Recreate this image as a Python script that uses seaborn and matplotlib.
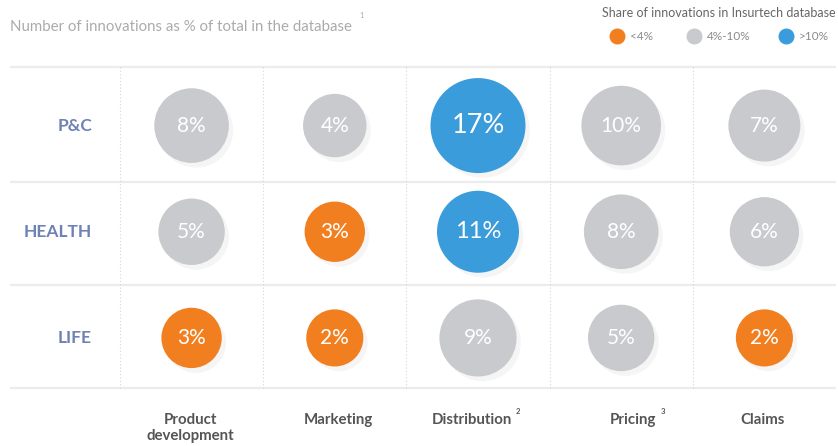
import matplotlib
matplotlib.use("Agg")
import matplotlib.pyplot as plt
from matplotlib.lines import Line2D
import seaborn as sns
import pandas as pd
import numpy as np

# Data
functions = ["Product\ndevelopment", "Marketing", "Distribution", "Pricing", "Claims"]
function_notes = ["", "", "2", "3", ""]
lines_of_business = ["P&C", "HEALTH", "LIFE"]
share_pc = [8, 4, 17, 10, 7]
share_health = [5, 3, 11, 8, 6]
share_life = [3, 2, 9, 5, 2]
band_labels = ["<4%", "4%-10%", ">10%"]

sns.set_theme(style="white")
plt.rcParams["font.family"] = ["Lato", "DejaVu Sans"]

rows = []
for lob, vals in zip(lines_of_business, [share_pc, share_health, share_life]):
    for fn, v in zip(functions, vals):
        band = "<4%" if v < 4 else (">10%" if v > 10 else "4%-10%")
        rows.append({"lob": lob, "function": fn, "share": v, "band": band})
df = pd.DataFrame(rows)
df["x"] = df["function"].map({f: i for i, f in enumerate(functions)})
df["y"] = df["lob"].map({l: i for i, l in enumerate(lines_of_business)})

palette = {"<4%": "#F27F1F", "4%-10%": "#C9CACD", ">10%": "#3B9CDB"}

W, H = 838, 446
fig = plt.figure(figsize=(W / 100, H / 100), dpi=100)
fig.patch.set_facecolor("white")
# axes spans pixel x 10..836, y 64..391
ax = fig.add_axes([10 / W, (H - 391) / H, 826 / W, 327 / H])
ax.set_xlim(-1.268, 4.5)
ax.set_ylim(2.5, -0.58)
ax.axis("off")

# grid: horizontal row separators and dotted column dividers
for yy in [-0.55, 0.53, 1.5, 2.47]:
    ax.axhline(yy, color="#ECECEC", lw=1.6, zorder=0)
for xx in [-0.5, 0.5, 1.5, 2.5, 3.5]:
    ax.plot([xx, xx], [-0.55, 2.47], color="#D6D6D6", lw=0.8,
            ls=(0, (1, 2)), zorder=0)

size_range = (1690, 4680)
# soft drop shadow beneath the bubbles
shadow = df.copy()
shadow["x"] = shadow["x"] + 0.03
shadow["y"] = shadow["y"] + 0.045
sns.scatterplot(data=shadow, x="x", y="y", size="share", sizes=size_range,
                size_norm=(2, 17), color="#000000", alpha=0.04,
                linewidth=0, legend=False, ax=ax, zorder=1)

sns.scatterplot(data=df, x="x", y="y", hue="band", palette=palette,
                size="share", sizes=size_range, size_norm=(2, 17),
                linewidth=0, legend=False, ax=ax, zorder=2)
ax.set_xlabel("")
ax.set_ylabel("")
ax.axis("off")

for _, r in df.iterrows():
    fs = 19.5 if r["share"] >= 15 else (17 if r["share"] > 10 else 15)
    ax.text(r["x"], r["y"], f"{r['share']}%", ha="center", va="center",
            color="white", fontsize=fs, zorder=3)

# row labels
for i, lob in enumerate(lines_of_business):
    ax.text(-0.695, i, lob, ha="right", va="center", fontsize=12.5,
            fontweight="bold", color="#6F82B6")

# column labels (pixel centres) with footnote markers
label_px = [190, 338, 472, 633, 763]
note_px = {"2": 516, "3": 661}
for fn, note, px in zip(functions, function_notes, label_px):
    fig.text(px / W, 1 - 413 / H, fn, ha="center", va="top", fontsize=10.8,
             fontweight="bold", color="#555555", linespacing=1.15)
    if note:
        fig.text(note_px[note] / W, 1 - 412 / H, note, ha="left",
                 va="center", fontsize=5.5, fontweight="bold",
                 color="#555555")

# title
fig.text(10 / W, 1 - 27 / H, "Number of innovations as % of total in the database",
         ha="left", va="center", fontsize=10.8, color="#ABABAB")
fig.text(359 / W, 1 - 15 / H, "1", ha="left", va="center", fontsize=5.5,
         color="#ABABAB")

# legend
fig.text(836 / W, 1 - 13 / H, "Share of innovations in Insurtech database",
         ha="right", va="center", fontsize=9, color="#666666")
legend_x = [617, 694, 786]
for lx, lab in zip(legend_x, band_labels):
    fig.add_artist(Line2D([lx / W], [1 - 36 / H], marker="o", markersize=10.5,
                          color=palette[lab], lw=0, transform=fig.transFigure))
    fig.text((lx + 13) / W, 1 - 36 / H, lab, ha="left", va="center",
             fontsize=8.5, color="#8A8A8A")

fig.savefig("out.png", dpi=100, facecolor="white")
